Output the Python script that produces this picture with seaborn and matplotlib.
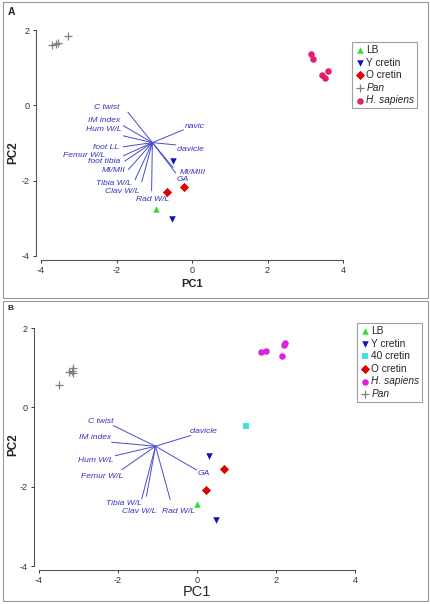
import matplotlib
matplotlib.use("Agg")
import matplotlib.pyplot as plt
from matplotlib.patches import Rectangle
import pandas as pd
import seaborn as sns

sns.set_style("ticks")
plt.rcParams["font.family"] = ["Liberation Sans", "DejaVu Sans"]
plt.rcParams["axes.unicode_minus"] = False

# ---------- panel A data ----------
a_groups = ["LB", "Y cretin", "O cretin", "Pan", "H. sapiens"]
a_pc1 = {
    "LB": [-0.95],
    "Y cretin": [-0.51, -0.52],
    "O cretin": [-0.65, -0.22],
    "Pan": [-3.72, -3.60, -3.56, -3.28],
    "H. sapiens": [3.14, 3.21, 3.44, 3.52, 3.59],
}
a_pc2 = {
    "LB": [-2.76],
    "Y cretin": [-1.49, -3.02],
    "O cretin": [-2.31, -2.17],
    "Pan": [1.60, 1.64, 1.65, 1.85],
    "H. sapiens": [1.36, 1.22, 0.81, 0.72, 0.91],
}
a_center = (-1.05, -0.99)
a_vars = ["C twist", "IM index", "Hum W/L", "foot LL", "Femur W/L", "foot tibia",
          "MI/MII", "Tibia W/L", "Clav W/L", "Rad W/L", "navic", "clavicle",
          "MI/MIII", "GA"]
a_load_x = [-1.70, -1.82, -1.82, -1.82, -1.82, -1.78, -1.69, -1.51, -1.33, -1.07,
            -0.23, -0.43, -0.43, -0.50]
a_load_y = [-0.18, -0.54, -0.81, -1.10, -1.34, -1.48, -1.71, -1.98, -2.03, -2.27,
            -0.65, -1.05, -1.80, -1.65]
a_lab_x = [-1.91, -1.91, -1.86, -1.93, -2.30, -1.91, -1.75, -1.60, -1.40, -1.05,
           -0.19, -0.41, -0.32, -0.40]
a_lab_y = [-0.05, -0.40, -0.65, -1.13, -1.32, -1.49, -1.72, -2.07, -2.30, -2.51,
           -0.55, -1.17, -1.78, -1.97]
a_lab_ha = ["right"] * 9 + ["center"] + ["left"] * 4

# ---------- panel B data ----------
b_groups = ["LB", "Y cretin", "40 cretin", "O cretin", "H. sapiens", "Pan"]
b_pc1 = {
    "LB": [0.01],
    "Y cretin": [0.31, 0.47],
    "40 cretin": [1.23],
    "O cretin": [0.69, 0.22],
    "H. sapiens": [1.63, 1.75, 2.16, 2.21, 2.22],
    "Pan": [-3.49, -3.23, -3.17, -3.13, -3.15],
}
b_pc2 = {
    "LB": [-2.44],
    "Y cretin": [-1.22, -2.83],
    "40 cretin": [-0.48],
    "O cretin": [-1.55, -2.09],
    "H. sapiens": [1.40, 1.41, 1.29, 1.56, 1.63],
    "Pan": [0.57, 0.88, 0.92, 0.99, 0.86],
}
b_center = (-1.05, -0.98)
b_vars = ["C twist", "IM index", "Hum W/L", "Femur W/L", "Tibia W/L", "Clav W/L",
          "Rad W/L", "clavicle", "GA"]
b_load_x = [-2.12, -2.16, -2.07, -1.90, -1.40, -1.28, -0.68, -0.16, -0.01]
b_load_y = [-0.46, -0.88, -1.22, -1.57, -2.31, -2.24, -2.32, -0.71, -1.58]
b_lab_x = [-2.12, -2.18, -2.12, -1.87, -1.40, -1.02, -0.47, -0.18, 0.01]
b_lab_y = [-0.35, -0.77, -1.34, -1.74, -2.43, -2.62, -2.62, -0.60, -1.67]
b_lab_ha = ["right"] * 6 + ["center"] + ["left"] * 2

# ---------- styles ----------
palette_a = {"LB": "#33dd33", "Y cretin": "#1010c0", "O cretin": "#e00000",
             "Pan": "#808080", "H. sapiens": "#e0206e"}
palette_b = {"LB": "#33dd33", "Y cretin": "#1010c0", "40 cretin": "#40e0e8",
             "O cretin": "#e00000", "H. sapiens": "#e020e0", "Pan": "#808080"}
markers = {"LB": "^", "Y cretin": "v", "40 cretin": "s", "O cretin": "D",
           "Pan": "+", "H. sapiens": "o"}
LOAD_COL = "#4a4acc"
TEXT_COL = "#3333bb"


def make_df(groups, xs, ys):
    rows = []
    for g in groups:
        for x, y in zip(xs[g], ys[g]):
            rows.append({"PC1": x, "PC2": y, "group": g})
    return pd.DataFrame(rows)


W, H = 430, 604
fig = plt.figure(figsize=(W / 100, H / 100), dpi=100)


def px_axes(x0, x1, y0, y1):
    return fig.add_axes([x0 / W, 1 - y1 / H, (x1 - x0) / W, (y1 - y0) / H])


def draw_panel(ax, df, groups, palette, center, vnames, lx, ly, tx, ty, has,
               leg_xy, pc1_bold, pc1_size, pc1_pos, pc2_pos):
    for vx, vy in zip(lx, ly):
        ax.plot([center[0], vx], [center[1], vy], color=LOAD_COL, lw=0.7,
                zorder=1)
    for name, x, y, ha in zip(vnames, tx, ty, has):
        ax.text(x, y, name, ha=ha, va="center", fontsize=6.1,
                style="italic", color=TEXT_COL)
    for g in groups:
        sub = df[df["group"] == g]
        sns.scatterplot(data=sub, x="PC1", y="PC2", color=palette[g],
                        marker=markers[g], s=22 if markers[g] != "+" else 40,
                        linewidth=0.9 if markers[g] == "+" else 0,
                        label=g, ax=ax, clip_on=False, zorder=3)
    ax.set_xlim(-4, 4)
    ax.set_ylim(-4, 2)
    ax.set_xticks([-4, -2, 0, 2, 4])
    ax.set_yticks([-4, -2, 0, 2])
    sns.despine(ax=ax)
    ax.spines["left"].set_position(("outward", 3.6))
    ax.spines["bottom"].set_position(("outward", 3.0))
    for s in ("left", "bottom"):
        ax.spines[s].set_color("#555555")
        ax.spines[s].set_linewidth(0.8)
    ax.tick_params(labelsize=6.5, length=2.5, width=0.7, pad=2,
                   colors="#333333")
    ax.set_xlabel("PC1", fontsize=pc1_size,
                  fontweight="bold" if pc1_bold else "normal", va="center")
    ax.set_ylabel("PC2", fontsize=8.5, fontweight="bold", va="center")
    ax.xaxis.set_label_coords(pc1_pos[0] / W, 1 - pc1_pos[1] / H,
                              transform=fig.transFigure)
    ax.yaxis.set_label_coords(pc2_pos[0] / W, 1 - pc2_pos[1] / H,
                              transform=fig.transFigure)
    leg = ax.legend(loc="upper left", bbox_to_anchor=leg_xy,
                    bbox_transform=fig.transFigure, fontsize=7.3,
                    frameon=True, fancybox=False, borderpad=0.3,
                    handletextpad=0.2, handlelength=0.9, labelspacing=0.25,
                    borderaxespad=0)
    leg.get_frame().set_edgecolor("#888888")
    leg.get_frame().set_linewidth(0.8)
    for t in leg.get_texts():
        if t.get_text() in ("Pan", "H. sapiens"):
            t.set_fontstyle("italic")


df_a = make_df(a_groups, a_pc1, a_pc2)
df_b = make_df(b_groups, b_pc1, b_pc2)

ax_a = px_axes(41, 343, 30, 256)
draw_panel(ax_a, df_a, a_groups, palette_a, a_center, a_vars, a_load_x,
           a_load_y, a_lab_x, a_lab_y, a_lab_ha, (352 / W, 1 - 42 / H),
           True, 8, (192, 284), (13, 153))

ax_b = px_axes(39, 355, 328, 566)
draw_panel(ax_b, df_b, b_groups, palette_b, b_center, b_vars, b_load_x,
           b_load_y, b_lab_x, b_lab_y, b_lab_ha, (357 / W, 1 - 323 / H),
           False, 10.5, (197, 592), (13, 445))

# panel frames and letters
for y0, y1 in [(2, 298), (301, 601)]:
    fig.patches.append(Rectangle((3 / W, 1 - y1 / H), 425 / W, (y1 - y0) / H,
                                 transform=fig.transFigure, fill=False,
                                 edgecolor="#999999", lw=0.8))
fig.text(8 / W, 1 - 12 / H, "A", fontsize=7.5, fontweight="bold", va="center")
fig.text(8 / W, 1 - 309 / H, "B", fontsize=6, fontweight="bold", va="center")

fig.savefig("out.png", dpi=100)
